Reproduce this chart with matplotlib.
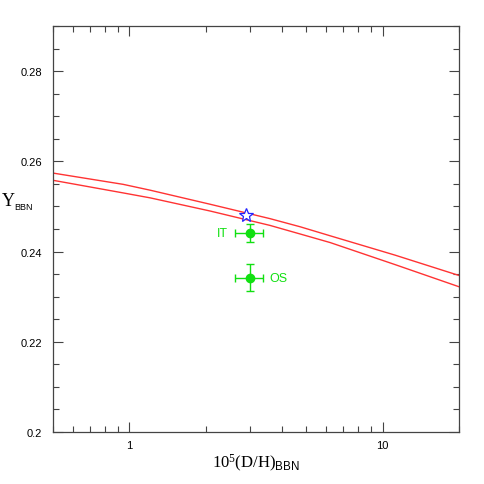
import numpy as np
import matplotlib
matplotlib.use("Agg")
import matplotlib.pyplot as plt
from matplotlib.ticker import FixedLocator, FuncFormatter, NullFormatter, MultipleLocator

plt.rcParams["mathtext.fontset"] = "custom"
plt.rcParams["mathtext.rm"] = "Liberation Serif"
plt.rcParams["mathtext.it"] = "Liberation Serif:italic"
plt.rcParams["mathtext.sf"] = "Liberation Sans"

# BBN prediction band (upper and lower curves)
dh_curve = [0.5, 0.946, 1.21, 2.08, 3.59, 4.72, 6.2, 11.2, 20.0]
y_upper = [0.2574, 0.2549, 0.2536, 0.2505, 0.2473, 0.2455, 0.2435, 0.2392, 0.2347]
y_lower = [0.2558, 0.2530, 0.2519, 0.2490, 0.2458, 0.2439, 0.2420, 0.2371, 0.2322]

# marked point (star)
star_dh, star_y = 2.88, 0.2481

# helium observations
obs_names = ["IT", "OS"]
obs_dh = [3.0, 3.0]
obs_dh_lo = [0.39, 0.39]
obs_dh_hi = [0.38, 0.38]
obs_y = [0.2442, 0.2342]
obs_yerr = [0.002, 0.003]

green = "#11e011"

fig = plt.figure(figsize=(4.85, 4.85), dpi=100)
ax = fig.add_axes([0.1093, 0.1072, 0.8371, 0.8371])

ax.plot(dh_curve, y_upper, color="#ff3333", lw=1.0)
ax.plot(dh_curve, y_lower, color="#ff3333", lw=1.0)
ax.plot(star_dh, star_y, marker="*", ms=10, mfc="white", mec="#2222ff", mew=0.9, zorder=5)

ax.errorbar(obs_dh, obs_y, xerr=[obs_dh_lo, obs_dh_hi], yerr=obs_yerr,
            fmt="o", ms=6, color=green, ecolor=green, elinewidth=1.0, capsize=3, capthick=1.0)
ax.text(obs_dh[0] * 0.82, obs_y[0], obs_names[0], color=green, fontsize=9,
        family="Liberation Sans", ha="right", va="center")
ax.text(obs_dh[1] * 1.19, obs_y[1], obs_names[1], color=green, fontsize=9,
        family="Liberation Sans", ha="left", va="center")

ax.set_xscale("log")
ax.set_xlim(0.5, 20)
ax.set_ylim(0.2, 0.29)

ax.xaxis.set_major_locator(FixedLocator([1, 10]))
ax.xaxis.set_minor_locator(FixedLocator([0.5, 0.6, 0.7, 0.8, 0.9, 2, 3, 4, 5, 6, 7, 8, 9, 20]))
ax.xaxis.set_major_formatter(FuncFormatter(lambda v, p: f"{v:g}"))
ax.xaxis.set_minor_formatter(NullFormatter())
ax.yaxis.set_major_locator(MultipleLocator(0.02))
ax.yaxis.set_minor_locator(MultipleLocator(0.005))
ax.yaxis.set_major_formatter(FuncFormatter(lambda v, p: f"{v:g}"))

ax.tick_params(which="both", direction="in", top=True, right=True, color="#444444")
ax.tick_params(which="major", length=7, width=0.8, labelsize=8)
ax.tick_params(axis="x", which="major", pad=6)
ax.tick_params(axis="y", which="major", pad=8)
ax.tick_params(which="minor", length=4, width=0.8)
for lab in ax.get_xticklabels() + ax.get_yticklabels():
    lab.set_family("Liberation Sans")
for s in ax.spines.values():
    s.set_color("#444444")
    s.set_linewidth(0.9)

ax.set_xlabel(r"$10^5(\mathrm{D/H})_{\mathsf{BBN}}$", fontsize=12, labelpad=1)

# y label drawn as two pieces so the subscript can be small
fig.text(2 / 485, 1 - 206 / 485, "Y", family="Liberation Serif", fontsize=13,
         va="baseline", ha="left")
fig.text(14 / 485, 1 - 210 / 485, "BBN", family="Liberation Sans", fontsize=6.5,
         va="baseline", ha="left")

fig.savefig("out.png", dpi=100)
